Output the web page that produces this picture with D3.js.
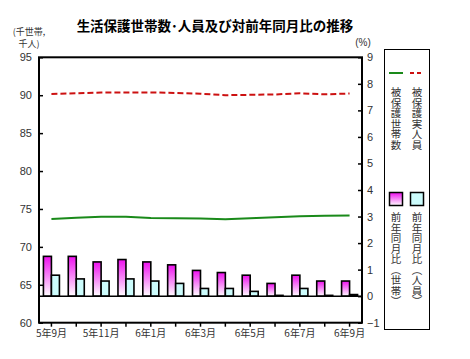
<!DOCTYPE html>
<html><head><meta charset="utf-8">
<script src="https://cdn.jsdelivr.net/npm/d3@7/dist/d3.min.js"></script>
<style>
html,body{margin:0;padding:0;background:#fff;}
svg{display:block;}
</style></head>
<body>
<svg id="c" width="470" height="359"></svg>
<script>
const categories = ["5年9月","5年10月","5年11月","5年12月","6年1月","6年2月","6年3月","6年4月","6年5月","6年6月","6年7月","6年8月","6年9月"];
const households = [73.68,73.85,73.98,73.98,73.80,73.77,73.75,73.64,73.77,73.92,74.05,74.12,74.14];
const persons = [90.16,90.25,90.35,90.37,90.37,90.30,90.20,90.00,90.05,90.10,90.26,90.12,90.22];
const yoyHouseholds = [1.50,1.50,1.29,1.38,1.29,1.18,0.97,0.89,0.79,0.48,0.79,0.57,0.57];
const yoyPersons = [0.79,0.65,0.57,0.65,0.57,0.48,0.29,0.29,0.18,0.03,0.29,0.03,0.06];
const leftTicks = [60,65,70,75,80,85,90,95];
const rightTicks = [-1,0,1,2,3,4,5,6,7,8,9];
const title = "生活保護世帯数･人員及び対前年同月比の推移";
const legendLabels = ["被保護世帯数","被保護実人員","前年同月比（世帯）","前年同月比（人員）"];

const svg = d3.select("#c");
const L = 39, R = 362, T = 57.3, B = 322.7;
const numFont = "'Liberation Sans', Arial, sans-serif";
const jpFont = "'Noto Sans CJK JP', sans-serif";

const x = d3.scaleBand().domain(categories).range([L, R]).padding(0);
const yL = d3.scaleLinear().domain([60, 95]).range([B, T]);
const yR = d3.scaleLinear().domain([-1, 9]).range([B, T]);

const defs = svg.append("defs");
const g1 = defs.append("linearGradient").attr("id","gm").attr("x1",0).attr("y1",0).attr("x2",0).attr("y2",1);
g1.append("stop").attr("offset","0%").attr("stop-color","#ee10ee");
g1.append("stop").attr("offset","100%").attr("stop-color","#ffffff");

// title
svg.append("text").attr("x", 215).attr("y", 31).attr("text-anchor","middle")
  .style("font-family", jpFont).style("font-size","13.5px").style("font-weight","bold")
  .attr("fill","#000").text(title);

// unit labels
svg.append("text").attr("x", 29).attr("y", 35).attr("text-anchor","middle")
  .style("font-family", jpFont).style("font-size","9px").attr("fill","#333").text("(千世帯,");
svg.append("text").attr("x", 29).attr("y", 47).attr("text-anchor","middle")
  .style("font-family", jpFont).style("font-size","9px").attr("fill","#333").text("千人)");
svg.append("text").attr("x", 363).attr("y", 46).attr("text-anchor","middle")
  .style("font-family", numFont).style("font-size","10px").attr("fill","#333").text("(%)");

// bars
const bw = 8;
svg.append("g").selectAll("rect.m").data(yoyHouseholds).join("rect")
  .attr("x", (d,i) => x(categories[i]) + x.bandwidth()/2 - bw)
  .attr("y", d => yR(d)).attr("width", bw).attr("height", d => yR(0) - yR(d))
  .attr("fill","url(#gm)").attr("stroke","#000").attr("stroke-width",1.6);
svg.append("g").selectAll("rect.c").data(yoyPersons).join("rect")
  .attr("x", (d,i) => x(categories[i]) + x.bandwidth()/2)
  .attr("y", d => yR(d)).attr("width", bw).attr("height", d => yR(0) - yR(d))
  .attr("fill","#ccfcfc").attr("stroke","#000").attr("stroke-width",1.6);

// zero line
svg.append("line").attr("x1", L).attr("x2", R).attr("y1", yR(0)).attr("y2", yR(0))
  .attr("stroke","#000").attr("stroke-width",1.5);

// lines
const cx = (d,i) => x(categories[i]) + x.bandwidth()/2;
svg.append("path").datum(households)
  .attr("d", d3.line().x(cx).y(d => yL(d)))
  .attr("fill","none").attr("stroke","#1a8a1a").attr("stroke-width",2);
svg.append("path").datum(persons)
  .attr("d", d3.line().x(cx).y(d => yL(d)))
  .attr("fill","none").attr("stroke","#cc1111").attr("stroke-width",2).attr("stroke-dasharray","6,3");

// axes
const ga = svg.append("g").attr("transform",`translate(${L},0)`)
  .call(d3.axisLeft(yL).tickValues(leftTicks).tickSizeInner(-4).tickSizeOuter(0).tickPadding(7));
const gr = svg.append("g").attr("transform",`translate(${R},0)`)
  .call(d3.axisRight(yR).tickValues(rightTicks).tickSizeInner(-4).tickSizeOuter(0).tickPadding(5));
const gb = svg.append("g").attr("transform",`translate(0,${B})`)
  .call(d3.axisBottom(x).tickSizeInner(4).tickSizeOuter(0).tickPadding(3)
    .tickFormat((d,i) => i % 2 === 0 ? d : ""));
[ga, gr].forEach(g => g.selectAll("text").style("font-family", numFont).style("font-size","11px").attr("fill","#333"));
gb.selectAll("text").style("font-family", jpFont).style("font-size","10px").attr("fill","#333");
[ga, gr, gb].forEach(g => {
  g.select(".domain").remove();
  g.selectAll(".tick line").attr("stroke","#000").attr("stroke-width",1.5);
});

// frame
svg.append("rect").attr("x", L).attr("y", T).attr("width", R - L).attr("height", B - T)
  .attr("fill","none").attr("stroke","#000").attr("stroke-width",2);

// legend
const lg = svg.append("g");
lg.append("rect").attr("x", 384.5).attr("y", 49.5).attr("width", 45).attr("height", 280)
  .attr("fill","#fff").attr("stroke","#000").attr("stroke-width",1);
lg.append("line").attr("x1",389).attr("x2",403).attr("y1",73).attr("y2",73)
  .attr("stroke","#1a8a1a").attr("stroke-width",2);
lg.append("line").attr("x1",410).attr("x2",424).attr("y1",73).attr("y2",73)
  .attr("stroke","#cc1111").attr("stroke-width",2).attr("stroke-dasharray","4,3");
lg.append("rect").attr("x",389.5).attr("y",192.5).attr("width",13).attr("height",13)
  .attr("fill","url(#gm)").attr("stroke","#000").attr("stroke-width",1.5);
lg.append("rect").attr("x",410.5).attr("y",192.5).attr("width",13).attr("height",13)
  .attr("fill","#ccfcfc").attr("stroke","#000").attr("stroke-width",1.5);
const lpos = [[396,87],[417,87],[396,212],[417,212]];
legendLabels.forEach((t,i) => {
  lg.append("text").attr("x", lpos[i][0]).attr("y", lpos[i][1])
    .style("writing-mode","vertical-rl").style("font-family", jpFont)
    .style("font-size","10.5px").attr("fill","#333").text(t);
});
</script>
</body></html>
